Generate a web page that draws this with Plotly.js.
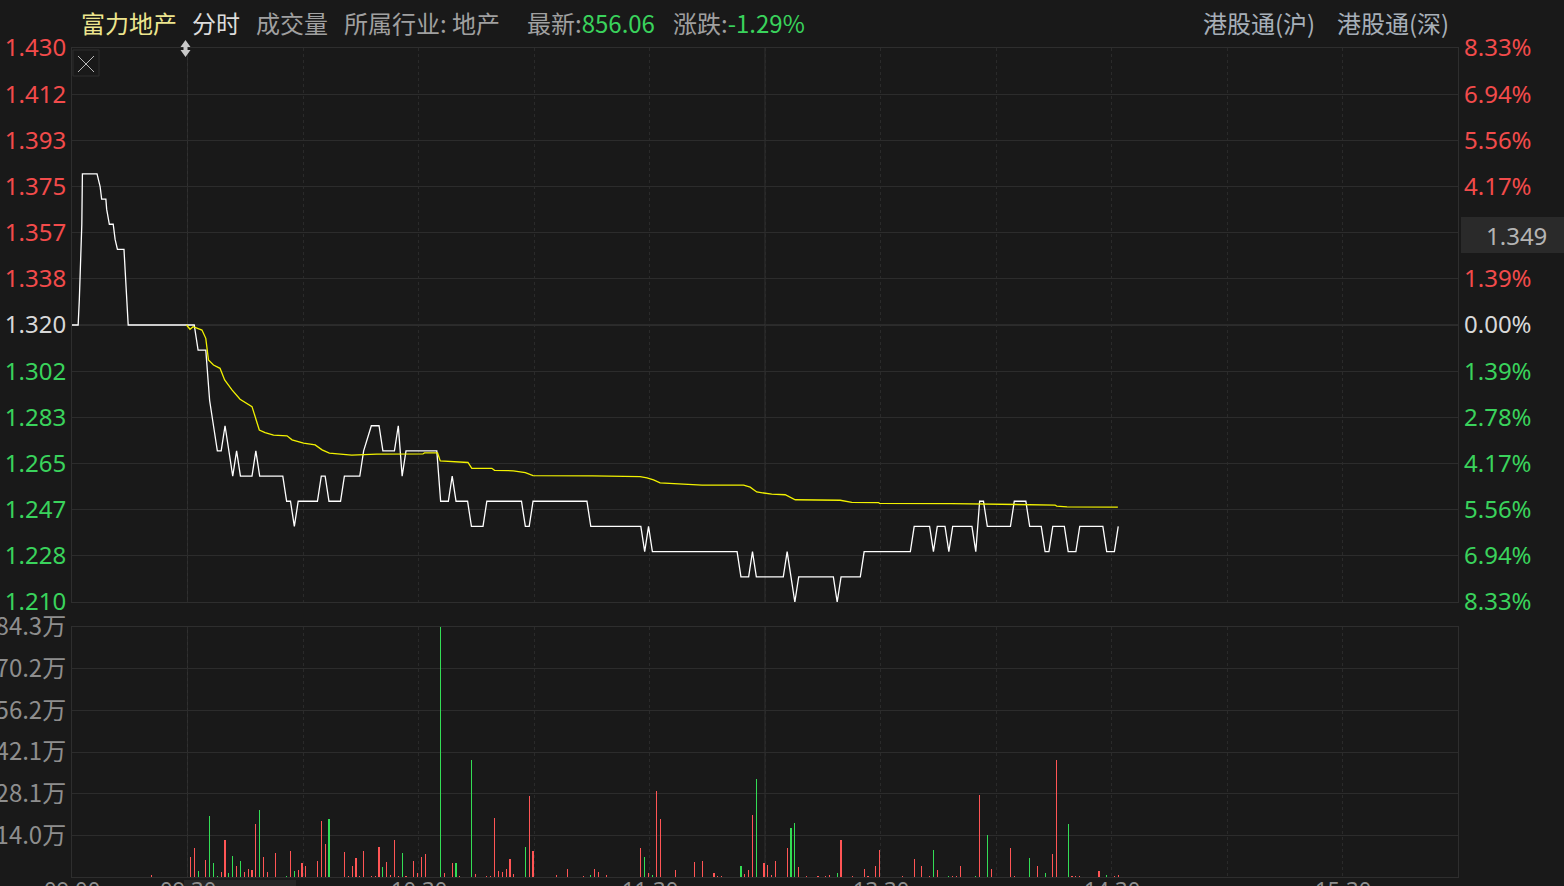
<!DOCTYPE html>
<html><head><meta charset="utf-8">
<script src="https://cdn.plot.ly/plotly-3.0.1.min.js"></script>
<style>html,body{margin:0;padding:0;background:#191919;overflow:hidden;}#chart{width:1564px;height:886px;}</style>
</head><body><div id="chart"></div>
<script>
// ---------- DATA ----------
const stockName = '富力地产';
const prevClose = 1.32;
const priceRange = [1.21, 1.43];
const priceLabels = ['1.210','1.228','1.247','1.265','1.283','1.302','1.320','1.338','1.357','1.375','1.393','1.412','1.430'];
const pctLabels   = ['8.33%','6.94%','5.56%','4.17%','2.78%','1.39%','0.00%','1.39%','','4.17%','5.56%','6.94%','8.33%'];
const volRange = [0, 84.3];               // 万
const volLabels = ['14.0万','28.1万','42.1万','56.2万','70.2万','84.3万'];
// every 30 minutes from 09:00 (12:00 and 13:00 share one position)
const timeLabels = ['09:00','09:30','','10:30','','11:30','','13:30','','14:30','','15:30',''];
const cursorPrice = '1.349';

// minute index from 09:00 (lunch removed), price
const preMarketPrice = [[-0.75,1.32],[0.85,1.32],[1.15,1.33],[1.55,1.345],[1.8,1.36],[1.95,1.38],[5.75,1.38],[6.55,1.375],[6.95,1.37],[8.05,1.37],[8.25,1.366],[8.95,1.36],[9.95,1.36],[10.45,1.354],[11.05,1.35],[12.75,1.35],[13.25,1.338],[13.85,1.32]];
const sessionPrice = [[31,1.32],[32,1.31],[34,1.31],[35,1.29],[36,1.28],[37,1.27],[38,1.27],[39,1.28],[41,1.26],[42,1.27],[43,1.26],[46,1.26],[47,1.27],[48,1.26],[54,1.26],[55,1.25],[56,1.25],[57,1.24],[58,1.25],[63,1.25],[64,1.26],[65,1.26],[66,1.25],[69,1.25],[70,1.26],[74,1.26],[75,1.27],[77,1.28],[79,1.28],[80,1.27],[83,1.27],[84,1.28],[85,1.26],[86,1.27],[94,1.27],[95,1.25],[97,1.25],[98,1.26],[99,1.25],[102,1.25],[103,1.24],[106,1.24],[107,1.25],[116,1.25],[117,1.24],[118,1.24],[119,1.25],[133,1.25],[134,1.24],[147,1.24],[148,1.23],[149,1.24],[150,1.23],[172,1.23],[173,1.22],[175,1.22],[176,1.23],[177,1.22],[184,1.22],[185,1.23],[187,1.21],[188,1.22],[197,1.22],[198,1.21],[199,1.22],[204,1.22],[205,1.23],[217,1.23],[218,1.24],[222,1.24],[223,1.23],[224,1.24],[226,1.24],[227,1.23],[228,1.24],[233,1.24],[234,1.23],[235,1.25],[236,1.25],[237,1.24],[243,1.24],[244,1.25],[247,1.25],[248,1.24],[251,1.24],[252,1.23],[253,1.23],[254,1.24],[257,1.24],[258,1.23],[260,1.23],[261,1.24],[267,1.24],[268,1.23],[270,1.23],[271,1.24]];
const avgPrice = [[29.0,1.32],[29.9,1.3183],[30.7,1.3193],[33.0,1.318],[34.0,1.3147],[34.7,1.3061],[36.0,1.3041],[37.7,1.3028],[38.9,1.2982],[40.8,1.2942],[42.9,1.2905],[46.0,1.2876],[47.9,1.2783],[49.4,1.2773],[51.6,1.2763],[55.1,1.276],[56.4,1.2744],[59.4,1.2731],[62.4,1.2724],[64.2,1.2704],[66.1,1.2691],[69.8,1.2687],[71.9,1.2683],[78.4,1.2687],[82.8,1.2688],[90.4,1.2688],[90.8,1.2692],[94.2,1.2692],[94.9,1.266],[98.8,1.2658],[102.1,1.2654],[103.1,1.2631],[108.3,1.2631],[109.0,1.2623],[113.9,1.2621],[117.0,1.2614],[119.0,1.2602],[134.5,1.2601],[146.8,1.2598],[148.6,1.2593],[150.3,1.2585],[152.0,1.2573],[155.7,1.2569],[162.9,1.2564],[173.7,1.2564],[175.4,1.2556],[177.1,1.2537],[178.9,1.2533],[181.0,1.2528],[184.5,1.2526],[187.1,1.2506],[198.8,1.2504],[201.8,1.2496],[208.7,1.2495],[209.0,1.2492],[227.8,1.2491],[254.6,1.2485],[255.0,1.2481],[257.7,1.2478],[270.9,1.2477]];
// minute, volume (万), u = red / d = green
const volumeBars = [[20,0.7,'u'],[30,6.7,'u'],[31,9.8,'u'],[32,2.0,'d'],[34,5.7,'u'],[35,20.6,'d'],[36,4.7,'d'],[37,0.3,'d'],[38,1.7,'u'],[39,12.5,'u'],[40,1.3,'d'],[41,7.1,'d'],[42,3.7,'u'],[43,5.4,'d'],[44,1.7,'u'],[45,2.7,'u'],[46,2.4,'u'],[47,17.9,'u'],[48,22.6,'d'],[49,6.7,'u'],[50,1.7,'u'],[52,8.1,'u'],[55,0.3,'d'],[56,8.8,'u'],[57,2.0,'d'],[58,2.4,'u'],[59,4.7,'u'],[60,3.7,'u'],[63,5.4,'u'],[64,18.9,'u'],[65,11.1,'u'],[66,19.6,'d'],[70,8.4,'u'],[71,0.3,'u'],[72,3.7,'u'],[73,6.4,'u'],[74,0.3,'u'],[75,8.8,'u'],[77,0.3,'u'],[78,0.3,'u'],[79,10.1,'u'],[80,3.4,'d'],[81,5.1,'u'],[82,0.7,'u'],[83,12.5,'u'],[84,0.3,'u'],[85,8.1,'d'],[86,0.3,'u'],[88,5.4,'u'],[89,1.3,'u'],[90,6.7,'u'],[91,7.8,'u'],[95,84.3,'d'],[96,1.3,'u'],[98,4.7,'u'],[99,4.7,'d'],[100,0.3,'u'],[103,39.5,'d'],[104,1.0,'u'],[107,0.3,'u'],[108,0.3,'u'],[109,19.9,'u'],[110,2.0,'u'],[111,1.7,'u'],[112,2.7,'u'],[113,6.1,'u'],[114,1.0,'u'],[117,10.1,'d'],[118,27.3,'u'],[119,8.8,'u'],[125,0.7,'u'],[128,2.7,'u'],[132,0.3,'u'],[134,0.7,'d'],[135,2.7,'u'],[136,1.7,'u'],[138,0.7,'u'],[147,9.8,'u'],[148,6.7,'d'],[149,1.3,'u'],[150,0.7,'d'],[151,29.0,'u'],[152,19.6,'u'],[156,2.4,'u'],[161,5.1,'u'],[163,5.4,'u'],[166,1.3,'u'],[167,0.3,'u'],[168,0.3,'u'],[173,3.7,'d'],[174,1.0,'u'],[175,2.4,'u'],[176,20.9,'u'],[177,33.0,'d'],[179,4.7,'u'],[180,4.0,'u'],[181,0.7,'u'],[182,5.4,'u'],[185,9.8,'u'],[186,16.5,'d'],[187,18.2,'d'],[188,3.4,'u'],[190,0.3,'u'],[193,0.3,'u'],[195,0.3,'u'],[196,0.7,'u'],[198,1.3,'d'],[199,12.5,'u'],[202,0.3,'u'],[205,2.7,'u'],[206,0.3,'u'],[208,3.7,'u'],[209,9.1,'u'],[215,0.3,'u'],[218,6.1,'u'],[220,3.7,'u'],[222,0.3,'u'],[223,9.1,'d'],[224,2.4,'u'],[227,0.3,'d'],[228,0.3,'u'],[229,0.3,'u'],[230,3.7,'u'],[234,0.3,'d'],[235,27.7,'u'],[237,14.2,'d'],[238,2.7,'u'],[243,9.8,'u'],[244,0.3,'u'],[248,6.4,'d'],[250,3.7,'u'],[252,1.3,'d'],[254,7.8,'u'],[255,39.5,'u'],[258,17.9,'d'],[259,0.3,'u'],[260,0.3,'u'],[261,0.3,'u'],[266,2.0,'u'],[268,0.7,'d'],[270,0.3,'u'],[271,0.7,'u']];

// ---------- STYLE ----------
const BG = '#191919', GRID = '#2c2c2c', RED = '#f24b4b', GREEN = '#3ad35c', NEUTRAL = '#d8d8d8', GRAY = '#8e8e8e';
const W = 1564, H = 886, L = 72, R = 1458, T = 48, B = 877;
const px = x => (x - L) / (R - L);
const py = y => (B - y) / (B - T);
const FONT = 'Noto Sans, Noto Sans CJK SC, sans-serif';
const CJK = 'Noto Sans CJK SC, Noto Sans, sans-serif';

const nTicks = priceLabels.length;
const priceTickVals = priceLabels.map((_, i) => priceRange[0] + i * (priceRange[1] - priceRange[0]) / (nTicks - 1));
const colorFor = v => Math.abs(v - prevClose) < 1e-6 ? NEUTRAL : (v > prevClose ? RED : GREEN);
const leftText = priceLabels.map((t, i) => `<span style="color:${colorFor(priceTickVals[i])}">${t}</span>`);
const rightText = pctLabels.map((t, i) => `<span style="color:${colorFor(priceTickVals[i])}">${t}</span>`);
const volTickVals = volLabels.map((_, i) => (i + 1) * volRange[1] / volLabels.length);
const xTickVals = timeLabels.map((_, i) => -0.75 + i * 30);

const allPrice = preMarketPrice.concat(sessionPrice);
const traces = [
  {type:'bar', x: volumeBars.map(d => d[0]), y: volumeBars.map(d => d[1]), xaxis:'x', yaxis:'y',
   width: 0.3, marker:{color: volumeBars.map(d => d[2] === 'u' ? '#ff5555' : '#33dd55'), line:{width:0}}, hoverinfo:'skip'},
  {type:'scatter', mode:'lines', x: allPrice.map(d => d[0]), y: allPrice.map(d => d[1]), xaxis:'x', yaxis:'y2',
   line:{color:'#ffffff', width:1.3}, hoverinfo:'skip'},
  {type:'scatter', mode:'lines', x: avgPrice.map(d => d[0]), y: avgPrice.map(d => d[1]), xaxis:'x', yaxis:'y3',
   line:{color:'#f2f200', width:1.3}, hoverinfo:'skip'}
];

const pathPx = pts => 'M' + pts.map(p => px(p[0]) + ',' + py(p[1])).join('L') + 'Z';
const shapes = [
  {type:'line', xref:'x', yref:'y2 domain', x0:29.25, x1:29.25, y0:0, y1:1, line:{color:'#303030', width:1}, layer:'below'},
  {type:'line', xref:'x', yref:'y domain', x0:29.25, x1:29.25, y0:0, y1:1, line:{color:'#303030', width:1}, layer:'below'},
  {type:'line', xref:'x', yref:'y2 domain', x0:179.25, x1:179.25, y0:0, y1:1, line:{color:'#303030', width:1}, layer:'below'},
  {type:'line', xref:'x', yref:'y domain', x0:179.25, x1:179.25, y0:0, y1:1, line:{color:'#303030', width:1}, layer:'below'},
  {type:'line', xref:'paper', yref:'y2', x0:0, x1:1, y0:prevClose, y1:prevClose, line:{color:'#3c3c3c', width:1}, layer:'below'},
  {type:'rect', xref:'paper', yref:'paper', x0:px(73), x1:px(99), y0:py(50), y1:py(76), line:{color:'#2e2e2e', width:1}, fillcolor:BG},
  {type:'line', xref:'paper', yref:'paper', x0:px(78), x1:px(94), y0:py(56), y1:py(72), line:{color:'#b8b8b8', width:1}},
  {type:'line', xref:'paper', yref:'paper', x0:px(78), x1:px(94), y0:py(72), y1:py(56), line:{color:'#b8b8b8', width:1}},
  {type:'path', xref:'paper', yref:'paper', path: pathPx([[180.5,47],[185.5,40],[190.5,47],[187.5,47],[187.5,50],[190.5,50],[185.5,57],[180.5,50],[183.5,50],[183.5,47]]), fillcolor:'#c8c8c8', line:{width:0}},
  {type:'rect', xref:'paper', yref:'paper', x0:px(1461), x1:px(1570), y0:py(217), y1:py(253), fillcolor:'#2a2a2a', line:{width:0}, layer:'above'},
  {type:'rect', xref:'paper', yref:'paper', x0:px(184), x1:px(296), y0:py(880), y1:py(890), fillcolor:'#262626', line:{width:0}, layer:'above'}
];

const ann = (x, text, color) => ({xref:'paper', yref:'paper', x: px(x - 3), y: py(23), xanchor:'left', yanchor:'middle',
  text, showarrow:false, font:{family:CJK, size:24, color}});
const annotations = timeLabels.map((t, i) => t ? ({xref:'x', yref:'paper', x: xTickVals[i], y: py(872), xanchor:'center', yanchor:'top',
   text: t, showarrow:false, font:{family:FONT, size:22, color:GRAY}}) : null).filter(Boolean).concat([
  ann(82, stockName, '#ece58e'),
  ann(193, '分时', '#dcdcdc'),
  ann(257, '成交量', '#a0a0a0'),
  ann(345, '所属行业: 地产', '#a0a0a0'),
  ann(528, `最新:<span style="color:${GREEN}">856.06</span>`, '#a0a0a0'),
  ann(674, `涨跌:<span style="color:${GREEN}">-1.29%</span>`, '#a0a0a0'),
  ann(1204, '港股通(沪)', '#a7afb8'),
  ann(1338, '港股通(深)', '#a7afb8'),
  {xref:'paper', yref:'paper', x: px(1516), y: py(235), xanchor:'center', yanchor:'middle', text: cursorPrice, showarrow:false,
   font:{family:FONT, size:24, color:'#b4b4b4'}}
]);

const layout = {
  width: W, height: H,
  margin: {l: L, r: W - R, t: T, b: H - B, pad: 0},
  paper_bgcolor: BG, plot_bgcolor: BG, showlegend: false, hovermode: false, bargap: 0,
  font: {family: FONT, color: GRAY},
  xaxis: {range: [-0.75, 359.25], tickmode:'array', tickvals: xTickVals, showticklabels:false, showgrid: true,
          gridcolor:'#2a2a2a', griddash:'dot', zeroline:false, showline:true, linecolor:'#2e2e2e', mirror:'all',
          ticks:'', fixedrange:true, anchor:'y'},
  yaxis: {domain:[0, py(627)], range: volRange, tickmode:'array', tickvals: volTickVals, ticktext: volLabels,
          gridcolor: GRID, zeroline:false, showline:true, linecolor:'#2e2e2e', mirror:true, ticks:'',
          tickfont:{family:CJK, size:24, color:GRAY}, fixedrange:true},
  yaxis2: {domain:[py(602), 1], range: priceRange, tickmode:'array', tickvals: priceTickVals, ticktext: leftText,
          gridcolor: GRID, zeroline:false, showline:true, linecolor:'#2e2e2e', mirror:true, ticks:'',
          tickfont:{family:FONT, size:24}, fixedrange:true, anchor:'x'},
  yaxis3: {overlaying:'y2', side:'right', range: priceRange, tickmode:'array', tickvals: priceTickVals, ticktext: rightText,
          showgrid:false, zeroline:false, showline:false, ticks:'', ticklabelstandoff:5,
          tickfont:{family:FONT, size:24}, fixedrange:true, anchor:'x'},
  shapes, annotations
};

Plotly.newPlot('chart', traces, layout, {displayModeBar:false, staticPlot:true});
</script></body></html>
